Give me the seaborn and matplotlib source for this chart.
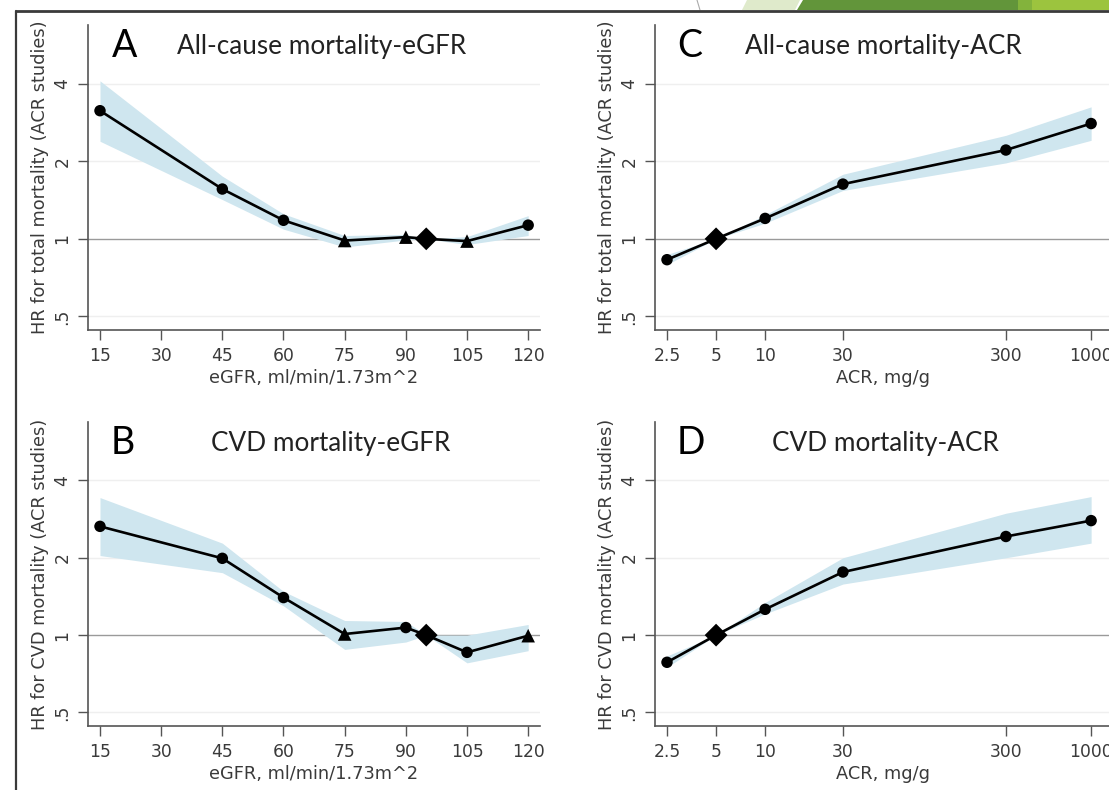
import matplotlib
matplotlib.use("Agg")
import matplotlib.pyplot as plt
import pandas as pd
import seaborn as sns
from matplotlib.patches import Polygon
from matplotlib.lines import Line2D

# ---- data -----------------------------------------------------------------
egfr = [15, 45, 60, 75, 90, 95, 105, 120]
egfr_ticks = [15, 30, 45, 60, 75, 90, 105, 120]
acr = [2.5, 5, 10, 30, 300, 1000]
acr_ticks = [2.5, 5, 10, 30, 300, 1000]
acr_tick_labels = ["2.5", "5", "10", "30", "300", "1000"]
hr_ticks = [0.5, 1, 2, 4]
hr_tick_labels = [".5", "1", "2", "4"]

# A: all-cause mortality by eGFR
allcause_egfr_hr = [3.14, 1.56, 1.18, 0.985, 1.015, 1.0, 0.98, 1.13]
allcause_egfr_lo = [2.39, 1.42, 1.09, 0.93, 0.99, 1.0, 0.95, 1.03]
allcause_egfr_hi = [4.10, 1.75, 1.25, 1.03, 1.04, 1.0, 1.02, 1.23]
allcause_egfr_kind = ["sig", "sig", "sig", "ns", "ns", "ref", "ns", "sig"]

# B: CVD mortality by eGFR
cvd_egfr_hr = [2.65, 1.99, 1.40, 1.01, 1.07, 1.0, 0.857, 0.995]
cvd_egfr_lo = [2.04, 1.75, 1.30, 0.88, 0.94, 1.0, 0.78, 0.87]
cvd_egfr_hi = [3.43, 2.28, 1.48, 1.14, 1.13, 1.0, 1.00, 1.10]
cvd_egfr_kind = ["sig", "sig", "sig", "ns", "sig", "ref", "sig", "ns"]

# C: all-cause mortality by ACR
allcause_acr_hr = [0.83, 1.0, 1.20, 1.63, 2.21, 2.80]
allcause_acr_lo = [0.795, 1.0, 1.15, 1.54, 1.97, 2.41]
allcause_acr_hi = [0.87, 1.0, 1.24, 1.78, 2.52, 3.25]
allcause_acr_kind = ["sig", "ref", "sig", "sig", "sig", "sig"]

# D: CVD mortality by ACR
cvd_acr_hr = [0.784, 1.0, 1.26, 1.76, 2.42, 2.79]
cvd_acr_lo = [0.75, 1.0, 1.21, 1.58, 2.00, 2.28]
cvd_acr_hi = [0.83, 1.0, 1.34, 2.00, 2.98, 3.46]
cvd_acr_kind = ["sig", "ref", "sig", "sig", "sig", "sig"]

# ---- style ------------------------------------------------------------------
sns.set_theme(style="white")
plt.rcParams["font.family"] = ["DejaVu Sans"]
TEXT = "#3a3a3a"
BAND = "#cfe6ef"
TITLE_FONT = ["Lato", "DejaVu Sans"]

W, H = 1109, 790
fig = plt.figure(figsize=(W / 100, H / 100), dpi=100)
fig.patch.set_facecolor("white")


def px_axes(left, top, right, bottom):
    return fig.add_axes([left / W, 1 - bottom / H, (right - left) / W, (bottom - top) / H])


marker_map = {"sig": "o", "ns": "^", "ref": "D"}
size_map = {"sig": 68, "ns": 95, "ref": 135}


def draw_panel(ax, x, hr, lo, hi, kind, letter, title, xlabel, ylabel,
               xticks, xticklabels, xlim, logx):
    df = pd.DataFrame({"x": x, "hr": hr, "lo": lo, "hi": hi, "kind": kind})
    ax.set_yscale("log", base=2)
    if logx:
        ax.set_xscale("log")
    ax.set_xlim(*xlim)
    ax.set_ylim(0.443, 6.75)

    for t in hr_ticks:
        if t == 1:
            ax.axhline(t, color="#9a9a9a", lw=1.0, zorder=1)
        else:
            ax.axhline(t, color="#efefef", lw=1.0, zorder=0)

    ax.fill_between(df["x"], df["lo"], df["hi"], color=BAND, lw=0, zorder=2)
    sns.lineplot(data=df, x="x", y="hr", ax=ax, color="black", lw=1.9,
                 sort=False, errorbar=None, zorder=3)
    sns.scatterplot(data=df, x="x", y="hr", style="kind", size="kind",
                    markers=marker_map, sizes=size_map, color="black",
                    edgecolor="black", linewidth=0, legend=False, ax=ax, zorder=4)

    ax.set_xticks(xticks)
    ax.set_xticklabels(xticklabels)
    ax.minorticks_off()
    ax.set_yticks(hr_ticks)
    ax.set_yticklabels(hr_tick_labels)
    for lab in ax.get_yticklabels():
        lab.set_rotation(90)
        lab.set_va("center")
    ax.tick_params(axis="both", direction="out", length=7, width=1.0,
                   color="#555555", labelcolor=TEXT, labelsize=12.3, pad=5,
                   left=True, bottom=True)
    ax.set_xlabel(xlabel, fontsize=12.8, color=TEXT, labelpad=3)
    ax.set_ylabel(ylabel, fontsize=12.8, color=TEXT, labelpad=3)

    for side in ("top", "right"):
        ax.spines[side].set_visible(False)
    for side in ("left", "bottom"):
        ax.spines[side].set_color("#555555")
        ax.spines[side].set_linewidth(1.2)
    ax.set_facecolor("white")

    ax.text(letter[1], 0.93, letter[0], transform=ax.transAxes, fontsize=27,
            family=TITLE_FONT, color="black", va="center", ha="left")
    ax.text(title[1], 0.93, title[0], transform=ax.transAxes, fontsize=18.8,
            family=TITLE_FONT, color="#222222", va="center", ha="left")


ax_a = px_axes(88, 25, 540, 330)
ax_c = px_axes(655, 25, 1112, 330)
ax_b = px_axes(88, 422, 540, 726)
ax_d = px_axes(655, 422, 1112, 726)

egfr_xlim = (12.06, 122.9)
acr_xlim = (2.11, 1343)

draw_panel(ax_a, egfr, allcause_egfr_hr, allcause_egfr_lo, allcause_egfr_hi,
           allcause_egfr_kind, ("A", 0.052), ("All-cause mortality-eGFR", 0.198),
           "eGFR, ml/min/1.73m^2", "HR for total mortality (ACR studies)",
           egfr_ticks, [str(t) for t in egfr_ticks], egfr_xlim, False)
draw_panel(ax_b, egfr, cvd_egfr_hr, cvd_egfr_lo, cvd_egfr_hi,
           cvd_egfr_kind, ("B", 0.05), ("CVD mortality-eGFR", 0.272),
           "eGFR, ml/min/1.73m^2", "HR for CVD mortality (ACR studies)",
           egfr_ticks, [str(t) for t in egfr_ticks], egfr_xlim, False)
draw_panel(ax_c, acr, allcause_acr_hr, allcause_acr_lo, allcause_acr_hi,
           allcause_acr_kind, ("C", 0.048), ("All-cause mortality-ACR", 0.198),
           "ACR, mg/g", "HR for total mortality (ACR studies)",
           acr_ticks, acr_tick_labels, acr_xlim, True)
draw_panel(ax_d, acr, cvd_acr_hr, cvd_acr_lo, cvd_acr_hi,
           cvd_acr_kind, ("D", 0.048), ("CVD mortality-ACR", 0.256),
           "ACR, mg/g", "HR for CVD mortality (ACR studies)",
           acr_ticks, acr_tick_labels, acr_xlim, True)

# ---- slide frame and decoration ------------------------------------------------
def fpoly(pts, color, z=10):
    fig.patches.append(Polygon([(x / W, 1 - y / H) for x, y in pts], closed=True,
                               transform=fig.transFigure, facecolor=color,
                               edgecolor="none", zorder=z))

fpoly([(747, 0), (800, 0), (795, 10), (742, 10)], "#dfeacb")
fpoly([(803, 0), (1018, 0), (1018, 10), (797, 10)], "#62953a")
fpoly([(1018, 0), (1032, 0), (1032, 10), (1018, 10)], "#83b33c")
fpoly([(1032, 0), (W, 0), (W, 10), (1032, 10)], "#9cc43e")
fig.lines.append(Line2D([697 / W, 700 / W], [1.0, 1 - 10 / H], transform=fig.transFigure,
                        color="#aaaaaa", lw=0.8))
fig.lines.append(Line2D([16 / W, 1.0], [1 - 10.5 / H, 1 - 10.5 / H], transform=fig.transFigure,
                        color="#3a3a3a", lw=2.0))
fig.lines.append(Line2D([16 / W, 16 / W], [1 - 10.5 / H, 0.0], transform=fig.transFigure,
                        color="#3a3a3a", lw=1.6))

fig.savefig("out.png", dpi=100)
